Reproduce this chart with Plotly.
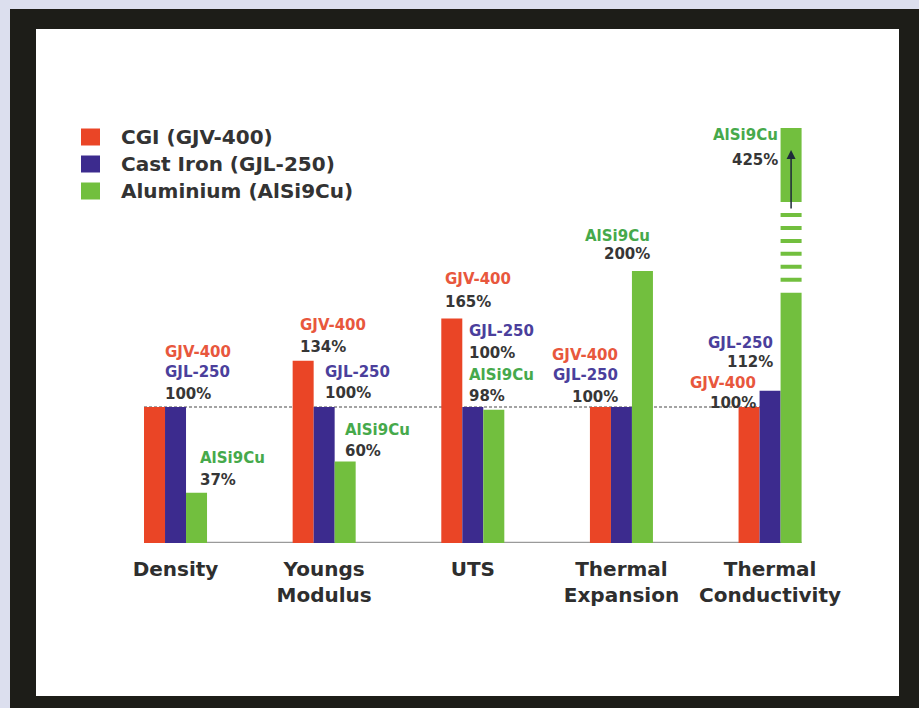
import plotly.graph_objects as go

# ---- data -------------------------------------------------------------
categories = ["Density", "Youngs<br>Modulus", "UTS", "Thermal<br>Expansion", "Thermal<br>Conductivity"]
series_names = ["CGI (GJV-400)", "Cast Iron (GJL-250)", "Aluminium (AlSi9Cu)"]
series_codes = ["GJV-400", "GJL-250", "AlSi9Cu"]
cgi_values = [100, 134, 165, 100, 100]
gjl_values = [100, 100, 100, 100, 112]
alu_values = [37, 60, 98, 200, 425]
reference_value = 100

series_values = [cgi_values, gjl_values, alu_values]

# ---- styling ----------------------------------------------------------
bar_colors = ["#EA4526", "#3C2B8E", "#72BF3E"]
code_colors = ["#E8573D", "#4B3F9C", "#46A94B"]
value_color = "#363636"
axis_text_color = "#2E2E2E"
FONT = "DejaVu Sans"

W, H = 919, 708


def px(x):
    return x / W


def py(y):
    return 1 - y / H


# vertical layout of the broken value axis (pixels from top)
BASE_PX = 543          # zero line
PX_PER_UNIT = 1.36     # pixels per percent
BREAK_PX = 202         # boundary between the lower and upper panels
UPPER_TOP_PX = 94
UPPER_VALUE_AT_PX = (425, 128)  # upper panel calibration

lower_max = (BASE_PX - BREAK_PX) / PX_PER_UNIT
upper_min = UPPER_VALUE_AT_PX[0] - (BREAK_PX - UPPER_VALUE_AT_PX[1]) / PX_PER_UNIT
upper_max = upper_min + (BREAK_PX - UPPER_TOP_PX) / PX_PER_UNIT
break_low = 184        # where the striped break starts on the lower panel

bargap = 0.576
bar_w = (1 - bargap) / 3

fig = go.Figure()

# lower panel and upper (break) panel share the same bars
for axes in (("x", "y"), ("x2", "y2")):
    for k in range(3):
        fig.add_trace(go.Bar(
            x=categories, y=series_values[k], name=series_names[k],
            marker=dict(color=bar_colors[k], line=dict(width=0)),
            xaxis=axes[0], yaxis=axes[1], showlegend=False, hoverinfo="skip",
        ))

shapes = []
# outer frame
shapes.append(dict(type="rect", xref="paper", yref="paper", x0=px(10), x1=1.05, y0=-0.05, y1=py(9),
                   fillcolor="#1D1D18", line=dict(width=0), layer="below"))
shapes.append(dict(type="rect", xref="paper", yref="paper", x0=px(36), x1=px(899), y0=py(696), y1=py(29),
                   fillcolor="white", line=dict(width=0), layer="below"))
# baseline and 100 % reference line
shapes.append(dict(type="line", xref="x", yref="y", x0=-1.5 * bar_w, x1=4 + 1.5 * bar_w, y0=0, y1=0,
                   line=dict(color="#9A9A9A", width=2.5), layer="below"))
shapes.append(dict(type="line", xref="x", yref="y", x0=-1.5 * bar_w, x1=4, y0=reference_value, y1=reference_value,
                   line=dict(color="#858585", width=1.5, dash="3px,2px"), layer="below"))

# axis-break stripes across the tall aluminium bar
brk_idx = alu_values.index(max(alu_values))
bx0 = brk_idx + bar_w - bar_w / 2 - 0.01
bx1 = brk_idx + bar_w + bar_w / 2 + 0.01
shapes.append(dict(type="rect", xref="x", yref="y", x0=bx0, x1=bx1, y0=break_low, y1=lower_max,
                   fillcolor="white", line=dict(width=0), layer="above"))
n_bands = 6
span = lower_max - break_low
gap = span / (n_bands + 1)
band_h = 4 / PX_PER_UNIT
for i in range(n_bands):
    c = break_low + gap * (i + 1)
    shapes.append(dict(type="rect", xref="x", yref="y", x0=bx0 + 0.01, x1=bx1 - 0.01,
                       y0=c - band_h / 2, y1=c + band_h / 2,
                       fillcolor=bar_colors[2], line=dict(width=0), layer="above"))

annotations = []
# arrow showing the bar continues beyond the break
annotations.append(dict(xref="x2", yref="y2", x=brk_idx + bar_w, y=upper_min + (BREAK_PX - 150) / PX_PER_UNIT,
                        text="", showarrow=True, ax=0, ay=60, axref="pixel", ayref="pixel",
                        arrowhead=2, arrowsize=1.2, arrowwidth=1.5, arrowcolor="#1E2A3A", standoff=0))

# value labels: (x px, alignment, [(kind, category, series, y px)])
label_blocks = [
    (163, "left", [("code", 0, 0, 352), ("code", 0, 1, 372), ("val", 0, 1, 394)]),
    (198, "left", [("code", 0, 2, 458), ("val", 0, 2, 480)]),
    (298, "left", [("code", 1, 0, 325), ("val", 1, 0, 347)]),
    (323, "left", [("code", 1, 1, 372), ("val", 1, 1, 393)]),
    (343, "left", [("code", 1, 2, 430), ("val", 1, 2, 451)]),
    (443, "left", [("code", 2, 0, 279), ("val", 2, 0, 302)]),
    (467, "left", [("code", 2, 1, 331), ("val", 2, 1, 353), ("code", 2, 2, 375), ("val", 2, 2, 396)]),
    (620, "right", [("code", 3, 0, 355), ("code", 3, 1, 375), ("val", 3, 1, 397)]),
    (652, "right", [("code", 3, 2, 236), ("val", 3, 2, 254)]),
    (775, "right", [("code", 4, 1, 343), ("val", 4, 1, 362)]),
    (758, "right", [("code", 4, 0, 383), ("val", 4, 0, 403)]),
    (780, "right", [("code", 4, 2, 135), ("val", 4, 2, 160)]),
]
for x_px, align, lines in label_blocks:
    for kind, c, s, y_px in lines:
        if kind == "code":
            txt, col = series_codes[s], code_colors[s]
        else:
            txt, col = f"{series_values[s][c]}%", value_color
        annotations.append(dict(xref="paper", yref="paper", x=px(x_px), y=py(y_px), text=txt,
                                showarrow=False, xanchor=align, yanchor="middle",
                                font=dict(family=FONT, size=15, color=col, weight="bold")))

# legend
legend_rows = [137, 164, 191]
for k in range(3):
    yc = legend_rows[k]
    shapes.append(dict(type="rect", xref="paper", yref="paper", x0=px(81), x1=px(100),
                       y0=py(yc + 8.5), y1=py(yc - 8.5), fillcolor=bar_colors[k], line=dict(width=0)))
    annotations.append(dict(xref="paper", yref="paper", x=px(119), y=py(yc), text=series_names[k],
                            showarrow=False, xanchor="left", yanchor="middle",
                            font=dict(family=FONT, size=20, color="#333333", weight="bold")))

x_dom = [px(101.2), px(844.4)]
fig.update_layout(
    width=W, height=H,
    margin=dict(l=0, r=0, t=0, b=0),
    paper_bgcolor="#DCDFEE",
    plot_bgcolor="rgba(0,0,0,0)",
    barmode="group", bargap=bargap, bargroupgap=0,
    showlegend=False,
    xaxis=dict(domain=x_dom, anchor="y", type="category", range=[-0.5, 4.5],
               showgrid=False, zeroline=False, showline=False, ticks="",
               ticklabelstandoff=12,
               tickfont=dict(family=FONT, size=20, color=axis_text_color, weight="bold")),
    yaxis=dict(domain=[py(BASE_PX), py(BREAK_PX)], range=[0, lower_max], visible=False),
    xaxis2=dict(domain=x_dom, anchor="y2", matches="x", type="category", visible=False),
    yaxis2=dict(domain=[py(BREAK_PX), py(UPPER_TOP_PX)], range=[upper_min, upper_max], visible=False),
    shapes=shapes,
    annotations=annotations,
)

fig.write_html("out.html")
